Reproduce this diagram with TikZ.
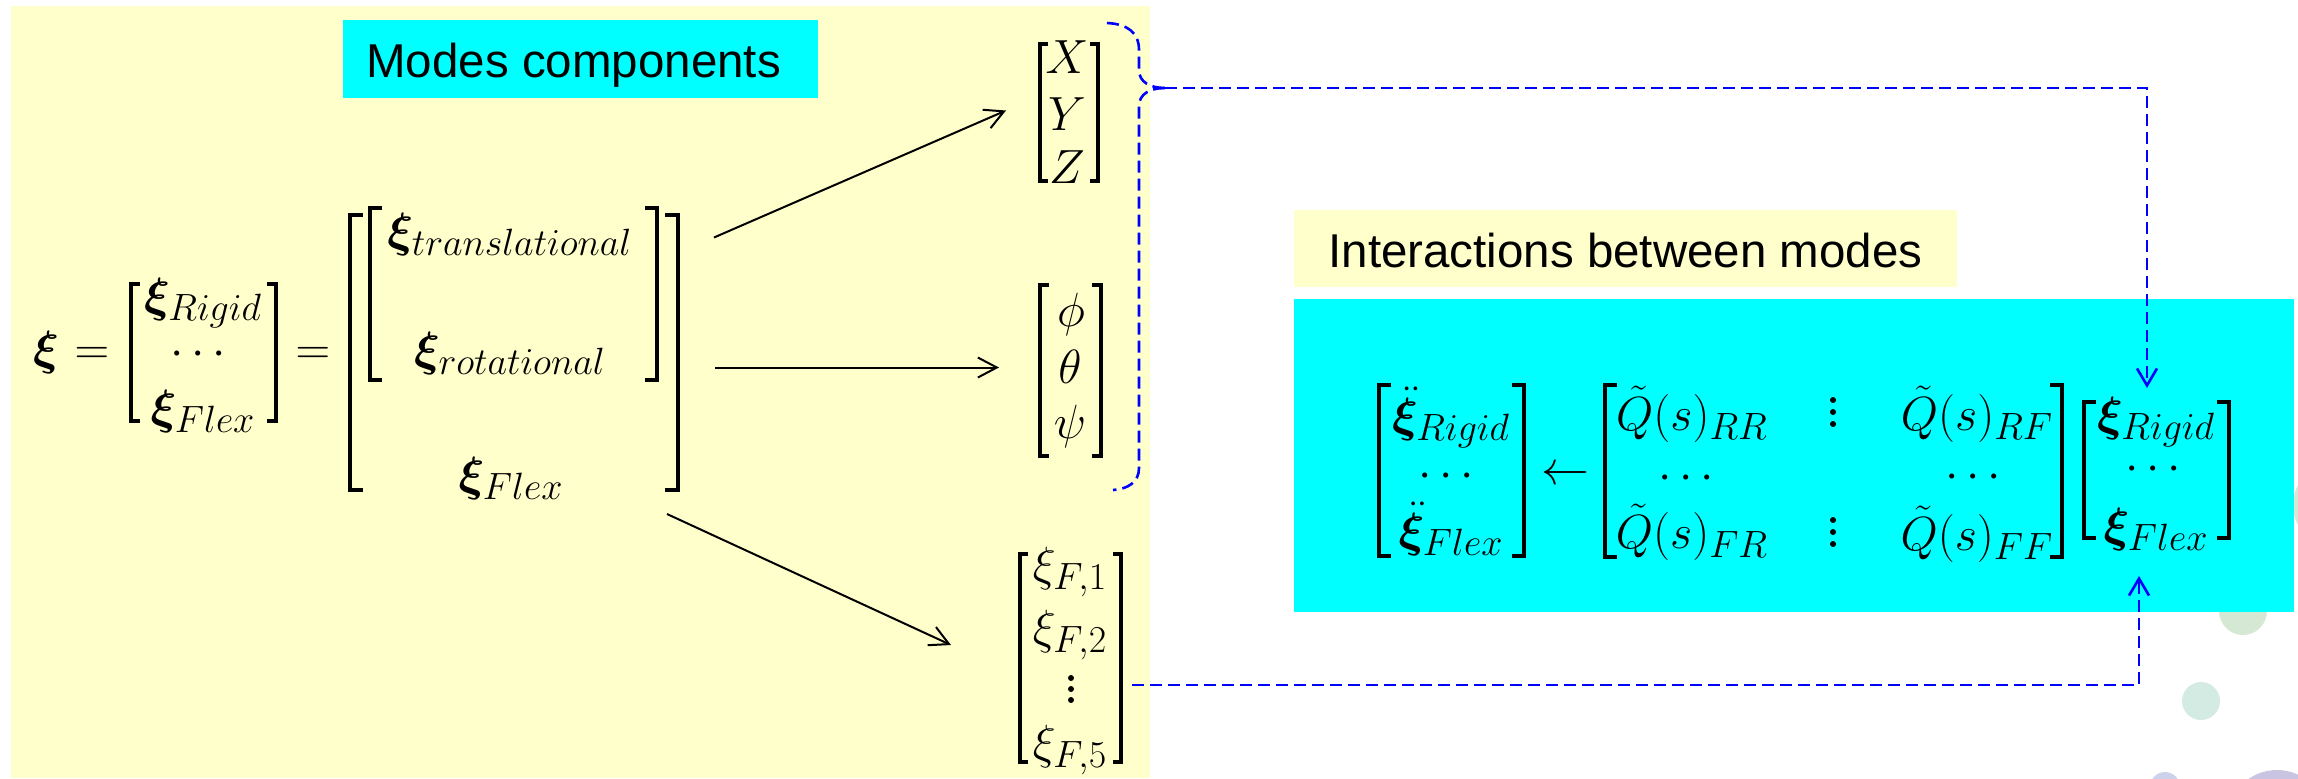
\documentclass[tikz,border=0pt]{standalone}
\usepackage{fix-cm}
\usepackage{amsmath}
\usepackage{bm}
\usepackage{fontspec}
\newfontfamily\arialfont{Liberation Sans}
\usetikzlibrary{arrows.meta,calc,fit}

\definecolor{panelyellow}{RGB}{255,255,204}
\definecolor{boxcyan}{RGB}{0,255,255}
\definecolor{dashblue}{RGB}{0,0,255}
\definecolor{dotgreen}{RGB}{213,232,212}
\definecolor{dotteal}{RGB}{212,235,227}
\definecolor{dotblue}{RGB}{205,210,235}
\definecolor{dotviolet}{RGB}{200,196,226}

% large formula size with roomy subscripts
\DeclareMathSizes{24}{24}{19}{13}
\newcommand\mathsz{\fontsize{24pt}{28pt}\selectfont}
\newcommand\titlesz{\arialfont\fontsize{23.75pt}{28pt}\selectfont}
% square brackets on both sides of a fitted node: #1 node name, #2 serif length
\newcommand\sqbrackets[2]{%
  \draw[brk] ($(#1.north west)+(#2,0)$) -- (#1.north west) -- (#1.south west) -- ($(#1.south west)+(#2,0)$);
  \draw[brk] ($(#1.north east)+(-#2,0)$) -- (#1.north east) -- (#1.south east) -- ($(#1.south east)+(-#2,0)$);}
% three stacked dots
\newcommand\vdotcol[3]{%
  \fill (#1,#2) circle[radius=3];
  \fill (#1,{#2+#3}) circle[radius=3];
  \fill (#1,{#2+2*#3}) circle[radius=3];}

\begin{document}
\begin{tikzpicture}[x=0.5pt,y=-0.5pt,
  mth/.style={font=\mathsz, inner sep=0pt, outer sep=0pt, anchor=base},
  ttl/.style={font=\titlesz, inner sep=0pt, anchor=base west},
  box/.style={inner sep=0pt, outer sep=0pt},
  brk/.style={line width=1.8pt, line join=miter},
  blkarrow/.style={line width=1pt, -{Straight Barb[length=9.5pt,width=10pt]}},
  bluedash/.style={draw=dashblue, line width=1.3pt, dash pattern=on 6pt off 3pt},
  bluearrow/.style={bluedash, -{Straight Barb[length=8.5pt,width=10pt]}},
]
\useasboundingbox (0,0) rectangle (2298,778);
\clip (0,0) rectangle (2298,778);

% decorative dots in the lower right corner
\fill[dotgreen] (2335,505) circle[radius=42];
\fill[dotgreen] (2243,611) circle[radius=24];
\fill[dotteal] (2201,701) circle[radius=19];
\fill[dotblue] (2165,787) circle[radius=15];
\fill[dotviolet] (2277,820) circle[radius=50];

% panels and titles
\node[box, fill=panelyellow, fit={(11,6)(1150,778)}] (leftpanel) {};
\node[box, fill=boxcyan, fit={(343,20)(818,98)}] (modesbox) {};
\node[ttl] (modestitle) at (366,77) {Modes components};
\node[box, fill=panelyellow, fit={(1294,210)(1957,287)}] (interbox) {};
\node[ttl] (intertitle) at (1328,267) {Interactions between modes};
\node[box, fill=boxcyan, fit={(1294,299)(2294,612)}] (interpanel) {};

% matrix frames
\node[box, fit={(131,284)(276,421)}] (lvec) {};
\node[box, fit={(350,215)(678,490)}] (bigmat) {};
\node[box, fit={(370,208)(657,380)}] (inmat) {};
\node[box, fit={(1040,44)(1098,181)}] (xyz) {};
\node[box, fit={(1040,285)(1101,456)}] (angles) {};
\node[box, fit={(1020,554)(1121,762)}] (fcol) {};
\node[box, fit={(1379,385)(1524,556)}] (ddvec) {};
\node[box, fit={(1605,385)(2062,557)}] (qmat) {};
\node[box, fit={(2084,402)(2229,538)}] (rvec) {};

\sqbrackets{lvec}{9}
\sqbrackets{bigmat}{13}
\sqbrackets{inmat}{12}
\sqbrackets{xyz}{8}
\sqbrackets{angles}{9}
\sqbrackets{fcol}{8}
\sqbrackets{ddvec}{12}
\sqbrackets{qmat}{12}
\sqbrackets{rvec}{12}

% modal vector decomposition
\node[mth] (xi) at (46,364) {$\bm{\xi}$};
\node[mth] (eqa) at (92,364) {$=$};
\node[mth] (eqb) at (313,364) {$=$};
\node[mth] (lrigid) at (203,311) {$\bm{\xi}_{Rigid}$};
\node[mth] (ldots) at (202,365) {$\cdots$};
\node[mth] (lflex) at (203,423) {$\bm{\xi}_{Flex}$};
\node[mth] (trans) at (510,246) {$\bm{\xi}_{translational}$};
\node[mth] (rot) at (510,365) {$\bm{\xi}_{rotational}$};
\node[mth] (bflex) at (511,490) {$\bm{\xi}_{Flex}$};

% components
\node[mth] (cx) at (1067,73) {$X$};
\node[mth] (cy) at (1067,130) {$Y$};
\node[mth] (cz) at (1067,183) {$Z$};
\node[mth] (cphi) at (1071,326) {$\phi$};
\node[mth] (ctheta) at (1070,383) {$\theta$};
\node[mth] (cpsi) at (1070,438) {$\psi$};
\node[mth] (f1) at (1070,580) {$\xi_{F,1}$};
\node[mth] (f2) at (1070,643) {$\xi_{F,2}$};
\vdotcol{1071}{678}{11}
\node[mth] (f5) at (1070,758) {$\xi_{F,5}$};

% interaction equation
\node[mth] (ddrigid) at (1451,431) {$\ddot{\bm{\xi}}_{Rigid}$};
\node[mth] (dddots) at (1450,487) {$\cdots$};
\node[mth] (ddflex) at (1451,546) {$\ddot{\bm{\xi}}_{Flex}$};
\node[mth] (larrow) at (1565,484) {$\leftarrow$};
\node[mth] (qrr) at (1692,430) {$\tilde{Q}(s)_{RR}$};
\node[mth] (qdotsa) at (1690,489) {$\cdots$};
\node[mth] (qfr) at (1692,548) {$\tilde{Q}(s)_{FR}$};
\vdotcol{1833}{400}{12}
\vdotcol{1833}{520}{12}
\node[mth] (qrf) at (1977,430) {$\tilde{Q}(s)_{RF}$};
\node[mth] (qdotsb) at (1977,488) {$\cdots$};
\node[mth] (qff) at (1977,550) {$\tilde{Q}(s)_{FF}$};
\node[mth] (rrigid) at (2156,430) {$\bm{\xi}_{Rigid}$};
\node[mth] (rdots) at (2157,480) {$\cdots$};
\node[mth] (rflex) at (2156,541) {$\bm{\xi}_{Flex}$};

% decomposition arrows
\draw[blkarrow] ($(bigmat.east)+(36,-115)$) -- ($(xyz.west)+(-34,-2)$);
\draw[blkarrow] ($(bigmat.east)+(37,15)$) -- ($(angles.west)+(-41,-3)$);
\draw[blkarrow] ($(bigmat.south east)+(-11,24)$) -- ($(fcol.west)+(-69,-13)$);

% brace grouping the rigid components
\coordinate (bracetip) at (1165,88);
\draw[bluedash] (1107,23) .. controls (1128,24) and (1139,33) .. (1139,50) -- (1139,70)
  .. controls (1139,82) and (1150,88) .. (bracetip);
\draw[bluedash] (bracetip) .. controls (1150,88) and (1139,94) .. (1139,106) -- (1139,468)
  .. controls (1139,482) and (1128,489) .. (1113,490);

% links to the interaction equation
\draw[bluearrow] (bracetip) -| ($(rvec.north)+(-9.5,-14)$);
\draw[bluearrow] ($(fcol.east)+(11,27)$) -| ($(rvec.south)+(-17.5,38)$);
\end{tikzpicture}
\end{document}
